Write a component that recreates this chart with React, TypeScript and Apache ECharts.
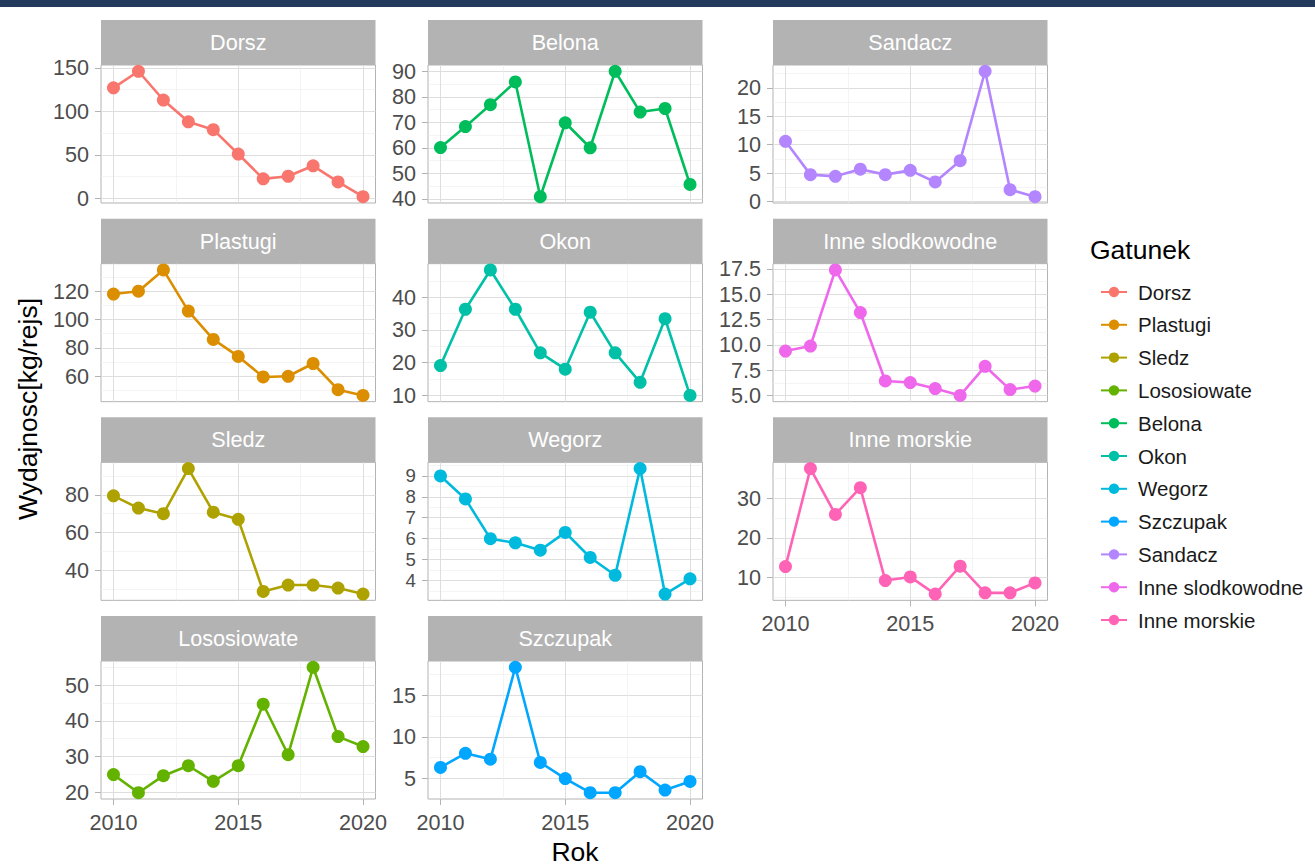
import { useEffect, useRef } from "react";
import * as echarts from "echarts";

// Catch per trip, 2010-2020, one small series per species
const years = [2010, 2011, 2012, 2013, 2014, 2015, 2016, 2017, 2018, 2019, 2020];

const speciesNames = [
  "Dorsz",
  "Plastugi",
  "Sledz",
  "Lososiowate",
  "Belona",
  "Okon",
  "Wegorz",
  "Szczupak",
  "Sandacz",
  "Inne slodkowodne",
  "Inne morskie",
];

const speciesColors = [
  "#F8766D",
  "#DB8E00",
  "#AEA200",
  "#64B200",
  "#00BD5C",
  "#00C1A7",
  "#00BADE",
  "#00A6FF",
  "#B385FF",
  "#EF67EB",
  "#FF63B6",
];

const dorsz = [127, 146, 113, 88, 79, 51, 22.5, 25.5, 37.5, 19, 2];
const plastugi = [118, 120, 135, 106, 86, 74, 59.5, 60, 69, 50.5, 46.5];
const sledz = [79.5, 73, 70, 94, 70.8, 67, 28.6, 32, 32, 30.4, 27.2];
const lososiowate = [24.9, 19.8, 24.6, 27.4, 23, 27.4, 44.7, 30.5, 55.1, 35.6, 32.8];
const belona = [60.1, 68.3, 76.9, 85.8, 40.8, 69.8, 60, 90, 74, 75.4, 45.6];
const okon = [19.1, 36.3, 48.3, 36.3, 23, 18, 35.4, 23, 14, 33.4, 10];
const wegorz = [9, 7.9, 6, 5.8, 5.45, 6.3, 5.1, 4.25, 9.35, 3.35, 4.08];
const szczupak = [6.34, 8.03, 7.32, 18.35, 6.93, 5, 3.3, 3.3, 5.83, 3.62, 4.65];
const sandacz = [10.6, 4.75, 4.45, 5.7, 4.75, 5.5, 3.46, 7.2, 22.9, 2.1, 0.87];
const inneSlodkowodne = [9.4, 9.9, 17.4, 13.2, 6.45, 6.3, 5.7, 5.03, 7.9, 5.6, 5.95];
const inneMorskie = [12.8, 37.4, 25.9, 32.6, 9.3, 10.2, 5.9, 12.9, 6.2, 6.2, 8.7];

const speciesValues = [
  dorsz,
  plastugi,
  sledz,
  lososiowate,
  belona,
  okon,
  wegorz,
  szczupak,
  sandacz,
  inneSlodkowodne,
  inneMorskie,
];

// Tick labels of each facet's own y scale
const yTicksDorsz = [0, 50, 100, 150];
const yTicksPlastugi = [60, 80, 100, 120];
const yTicksSledz = [40, 60, 80];
const yTicksLososiowate = [20, 30, 40, 50];
const yTicksBelona = [40, 50, 60, 70, 80, 90];
const yTicksOkon = [10, 20, 30, 40];
const yTicksWegorz = [4, 5, 6, 7, 8, 9];
const yTicksSzczupak = [5, 10, 15];
const yTicksSandacz = [0, 5, 10, 15, 20];
const yTicksInneSlodkowodne = [5, 7.5, 10, 12.5, 15, 17.5];
const yTicksInneMorskie = [10, 20, 30];

const yTicks = [
  yTicksDorsz,
  yTicksPlastugi,
  yTicksSledz,
  yTicksLososiowate,
  yTicksBelona,
  yTicksOkon,
  yTicksWegorz,
  yTicksSzczupak,
  yTicksSandacz,
  yTicksInneSlodkowodne,
  yTicksInneMorskie,
];
const yTickDecimals = [0, 0, 0, 0, 0, 0, 0, 0, 0, 1, 0];
const xTicks = [2010, 2015, 2020];

const FONT = "'Liberation Sans', Arial, Helvetica, sans-serif";
const SMALL = 21.6;
const LEGEND_SIZE = 20.5;
const LARGE = 26.5;

// facet_wrap layout: 3 columns filled top to bottom, 4 rows
const colLefts = [101, 428, 773];
const panelW = 274.5;
const firstRowTop = 20;
const rowPitch = 198.67;
const stripH = 45;
const plotH = 138;
const nRows = 4;

function expandedRange(vals: number[]) {
  const lo = Math.min(...vals);
  const hi = Math.max(...vals);
  const pad = (hi - lo) * 0.05;
  return [lo - pad, hi + pad];
}

function buildOption() {
  const grids: any[] = [];
  const xAxes: any[] = [];
  const yAxes: any[] = [];
  const series: any[] = [];
  const graphics: any[] = [];

  graphics.push({
    type: "rect",
    shape: { x: 0, y: 0, width: 1315, height: 7 },
    style: { fill: "#243a5c" },
    silent: true,
  });

  const [xMin, xMax] = expandedRange(years);
  const lastInColumn = [3, 7, 10];

  speciesNames.forEach((name, i) => {
    const col = Math.floor(i / nRows);
    const row = i % nRows;
    const left = colLefts[col];
    const stripTop = firstRowTop + row * rowPitch;
    const top = stripTop + stripH;
    const isBottom = lastInColumn.includes(i);
    const vals = speciesValues[i];
    const ticks = yTicks[i];
    const step = ticks[1] - ticks[0];
    const dec = yTickDecimals[i];
    const [yMin, yMax] = expandedRange(vals);
    // keep tightly packed tick labels from running into each other
    const tickPitch = (plotH * step) / (yMax - yMin);
    const yLabelSize = Math.min(SMALL, tickPitch / 1.12);

    grids.push({
      left,
      top,
      width: panelW,
      height: plotH,
      containLabel: false,
      outerBoundsMode: "none",
      show: true,
      backgroundColor: "#ffffff",
      borderColor: "#b3b3b3",
      borderWidth: 1,
    });

    xAxes.push({
      type: "value",
      gridIndex: i,
      min: xMin,
      max: xMax,
      minInterval: 5,
      maxInterval: 5,
      axisLine: { show: false },
      axisTick: {
        show: isBottom,
        length: 6,
        customValues: xTicks,
        lineStyle: { color: "#b3b3b3", width: 1 },
      },
      axisLabel: {
        show: isBottom,
        customValues: xTicks,
        interval: 0,
        showMinLabel: true,
        showMaxLabel: true,
        hideOverlap: false,
        margin: 12,
        color: "#4d4d4d",
        fontSize: SMALL,
        fontFamily: FONT,
        formatter: (v: number) => String(v),
      },
      splitLine: { show: true, lineStyle: { color: "#dedede", width: 1 } },
      minorTick: { show: false, splitNumber: 2 },
      minorSplitLine: { show: true, lineStyle: { color: "#ececec", width: 0.6 } },
    });

    yAxes.push({
      type: "value",
      gridIndex: i,
      min: yMin,
      max: yMax,
      minInterval: step,
      maxInterval: step,
      axisLine: { show: false },
      axisTick: {
        show: true,
        length: 6,
        customValues: ticks,
        lineStyle: { color: "#b3b3b3", width: 1 },
      },
      axisLabel: {
        show: true,
        customValues: ticks,
        interval: 0,
        showMinLabel: true,
        showMaxLabel: true,
        hideOverlap: false,
        margin: 12,
        color: "#4d4d4d",
        fontSize: yLabelSize,
        fontFamily: FONT,
        formatter: (v: number) => v.toFixed(dec),
      },
      splitLine: { show: true, lineStyle: { color: "#dedede", width: 1 } },
      minorTick: { show: false, splitNumber: 2 },
      minorSplitLine: { show: true, lineStyle: { color: "#ececec", width: 0.6 } },
    });

    series.push({
      type: "line",
      name,
      xAxisIndex: i,
      yAxisIndex: i,
      data: years.map((yr, k) => [yr, vals[k]]),
      symbol: "circle",
      symbolSize: 13,
      showSymbol: true,
      clip: false,
      lineStyle: { color: speciesColors[i], width: 2.6 },
      itemStyle: { color: speciesColors[i] },
      emphasis: { disabled: true },
    });

    // facet strip
    graphics.push({
      type: "rect",
      shape: { x: left, y: stripTop, width: panelW, height: stripH },
      style: { fill: "#b3b3b3" },
      silent: true,
    });
    graphics.push({
      type: "text",
      x: left + panelW / 2,
      y: stripTop + stripH / 2,
      style: {
        text: name,
        fill: "#ffffff",
        font: `${SMALL}px ${FONT}`,
        align: "center",
        verticalAlign: "middle",
        textAlign: "center",
        textVerticalAlign: "middle",
      },
      silent: true,
    });
  });

  // axis titles and legend title
  graphics.push({
    type: "text",
    x: 28,
    y: 409,
    rotation: Math.PI / 2,
    style: {
      text: "Wydajnosc[kg/rejs]",
      fill: "#000000",
      font: `${LARGE}px ${FONT}`,
      align: "center",
      verticalAlign: "middle",
      textAlign: "center",
      textVerticalAlign: "middle",
    },
    silent: true,
  });
  graphics.push({
    type: "text",
    x: 575,
    y: 852,
    style: {
      text: "Rok",
      fill: "#000000",
      font: `${LARGE}px ${FONT}`,
      align: "center",
      verticalAlign: "middle",
      textAlign: "center",
      textVerticalAlign: "middle",
    },
    silent: true,
  });
  graphics.push({
    type: "text",
    x: 1090,
    y: 250,
    style: {
      text: "Gatunek",
      fill: "#000000",
      font: `${LARGE}px ${FONT}`,
      align: "left",
      verticalAlign: "middle",
      textAlign: "left",
      textVerticalAlign: "middle",
    },
    silent: true,
  });

  return {
    animation: false,
    backgroundColor: "#ffffff",
    grid: grids,
    xAxis: xAxes,
    yAxis: yAxes,
    series,
    legend: {
      orient: "vertical",
      left: 1095,
      top: 276,
      itemWidth: 26,
      itemHeight: 13,
      itemGap: 10.8,
      selectedMode: false,
      data: speciesNames,
      textStyle: {
        fontSize: LEGEND_SIZE,
        lineHeight: 22,
        color: "#1a1a1a",
        fontFamily: FONT,
        padding: [0, 0, 0, 6],
      },
    },
    graphic: graphics,
  };
}

export default function App() {
  const ref = useRef<HTMLDivElement>(null);

  useEffect(() => {
    document.body.style.margin = "0";
    if (!ref.current) return;
    const chart = echarts.init(ref.current, undefined, { renderer: "svg" });
    chart.setOption(buildOption());
    return () => chart.dispose();
  }, []);

  return <div ref={ref} style={{ width: 1315, height: 867 }} />;
}
